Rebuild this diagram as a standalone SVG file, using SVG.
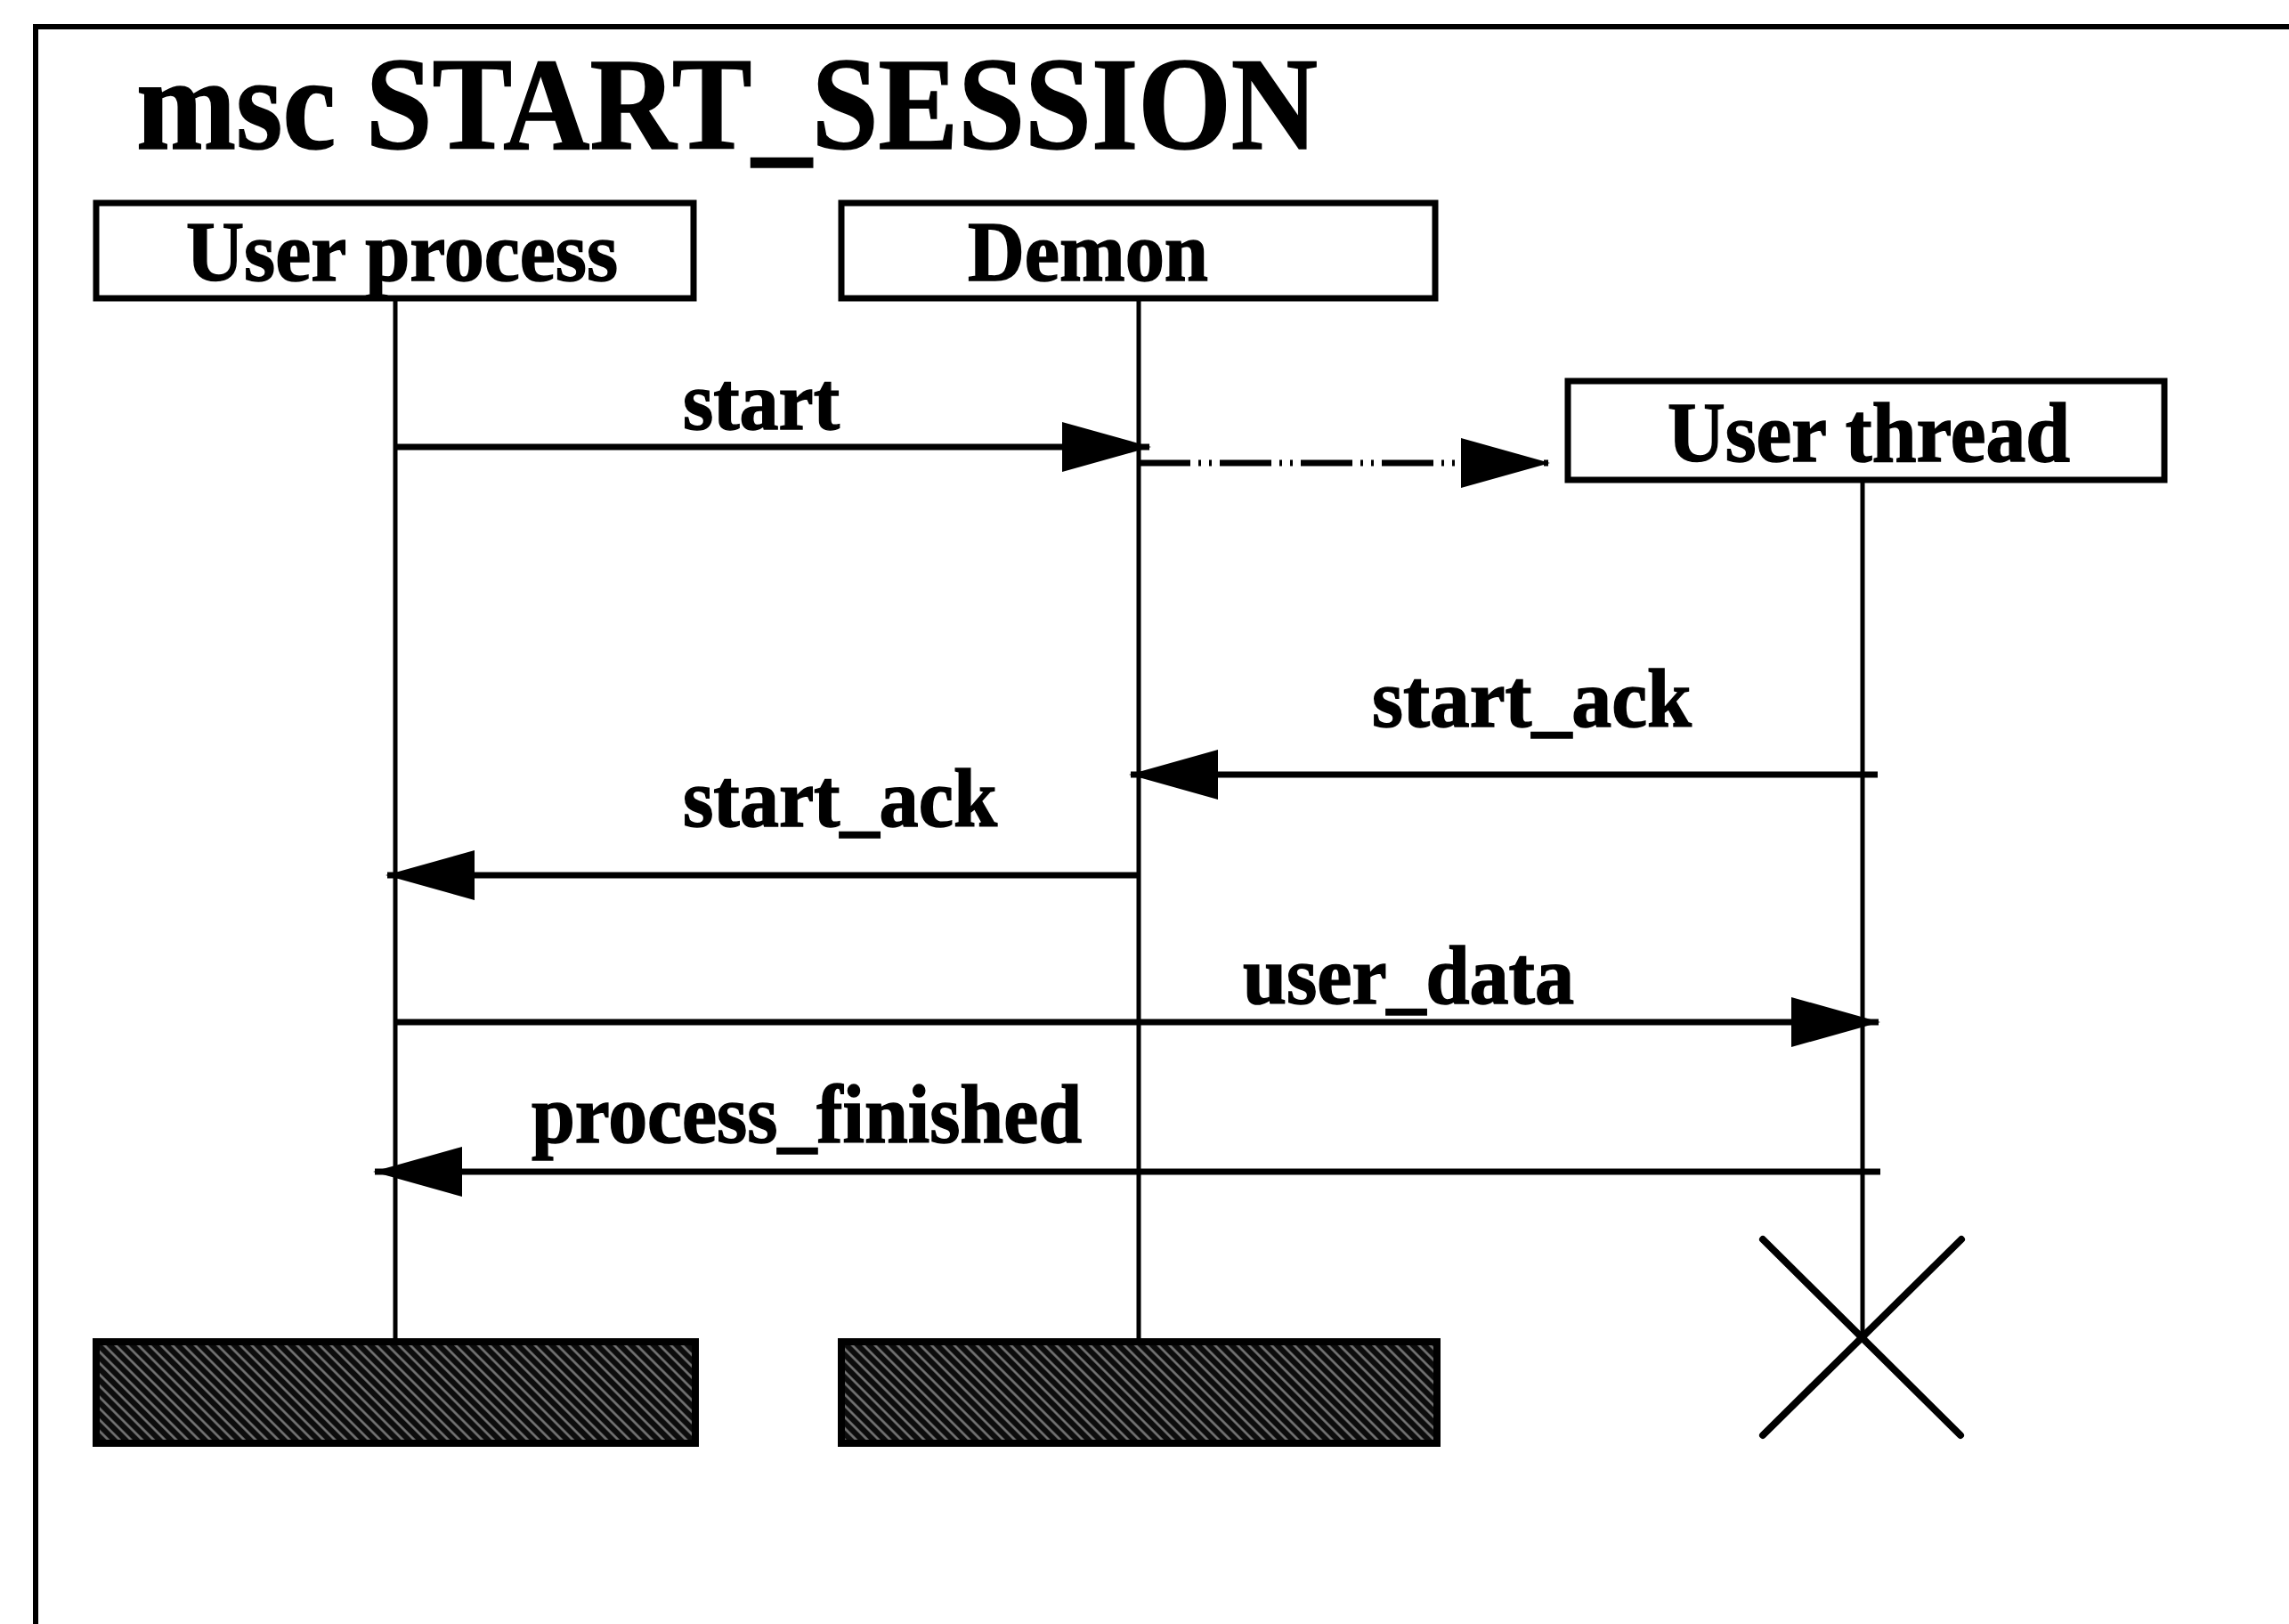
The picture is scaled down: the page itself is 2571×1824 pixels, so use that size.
<svg xmlns="http://www.w3.org/2000/svg" width="2571" height="1824" viewBox="0 0 2571 1824">
<style>
  text { font-family: "Liberation Serif", "Times New Roman", serif; font-weight: bold; fill: #000; stroke: #000; stroke-width: 1.5; }
  .title { font-size: 148px; }
  .head { font-size: 96px; }
  .lbl { font-size: 94px; }
  .box { fill: #fff; stroke: #000; stroke-width: 7; }
  .life { stroke: #000; stroke-width: 5; fill: none; }
  .msg { stroke: #000; stroke-width: 7; fill: none; marker-end: url(#arr); }
  .create { stroke: #000; stroke-width: 7; fill: none; stroke-dasharray: 58 9 3 9 3 9; marker-end: url(#arr); }
  .end { fill: url(#hatch); stroke: #000; stroke-width: 8; }
  .stop { stroke: #000; stroke-width: 8; stroke-linecap: round; }
  .frame { stroke: #000; stroke-width: 6; fill: none; }
</style>
<defs>
  <marker id="arr" markerUnits="userSpaceOnUse" viewBox="0 0 100 56" markerWidth="100" markerHeight="56" refX="98" refY="28" orient="auto">
    <path d="M0,0 L100,28 L0,56 Z" fill="#000"/>
  </marker>
  <pattern id="hatch" patternUnits="userSpaceOnUse" width="9" height="9" patternTransform="rotate(-45)">
    <rect width="9" height="9" fill="#0c0c0c"/>
    <line x1="4.5" y1="0" x2="4.5" y2="9" stroke="#7a7a7a" stroke-width="2.5"/>
  </pattern>
</defs>
<rect width="2571" height="1824" fill="#fff"/>
<g id="frame">
  <path class="frame" d="M2571,30 L40,30 L40,1824"/>
  <text class="title" x="153" y="167" textLength="1327" lengthAdjust="spacingAndGlyphs">msc START_SESSION</text>
</g>
<g id="user-process">
  <rect class="box" x="108" y="228" width="671" height="107"/>
  <text class="head" x="209" y="315" textLength="485" lengthAdjust="spacingAndGlyphs">User process</text>
  <line class="life" x1="444" y1="335" x2="444" y2="1505"/>
  <rect class="end" x="108" y="1507" width="673" height="114"/>
</g>
<g id="demon">
  <rect class="box" x="945" y="228" width="667" height="107"/>
  <text class="head" x="1087" y="315" textLength="270" lengthAdjust="spacingAndGlyphs">Demon</text>
  <line class="life" x1="1279" y1="335" x2="1279" y2="1505"/>
  <rect class="end" x="945" y="1507" width="669" height="114"/>
</g>
<g id="user-thread">
  <rect class="box" x="1761" y="428" width="670" height="111"/>
  <text class="head" x="1873" y="518" textLength="452" lengthAdjust="spacingAndGlyphs">User thread</text>
  <line class="life" x1="2092" y1="539" x2="2092" y2="1500"/>
  <line class="stop" x1="1980" y1="1392" x2="2202" y2="1612"/>
  <line class="stop" x1="2203" y1="1392" x2="1980" y2="1612"/>
</g>
<g id="connectors">
  <line class="msg" x1="444" y1="502" x2="1291" y2="502"/>
  <text class="lbl" x="767" y="482" textLength="176" lengthAdjust="spacingAndGlyphs">start</text>
  <line class="create" x1="1279" y1="520" x2="1739" y2="520"/>
  <line class="msg" x1="2109" y1="870" x2="1270" y2="870"/>
  <text class="lbl" x="1541" y="816" textLength="359" lengthAdjust="spacingAndGlyphs">start_ack</text>
  <line class="msg" x1="1279" y1="983" x2="435" y2="983"/>
  <text class="lbl" x="767" y="928" textLength="353" lengthAdjust="spacingAndGlyphs">start_ack</text>
  <line class="msg" x1="444" y1="1148" x2="2110" y2="1148"/>
  <text class="lbl" x="1396" y="1127" textLength="372" lengthAdjust="spacingAndGlyphs">user_data</text>
  <line class="msg" x1="2112" y1="1316" x2="421" y2="1316"/>
  <text class="lbl" x="597" y="1283" textLength="618" lengthAdjust="spacingAndGlyphs">process_finished</text>
</g>
</svg>
